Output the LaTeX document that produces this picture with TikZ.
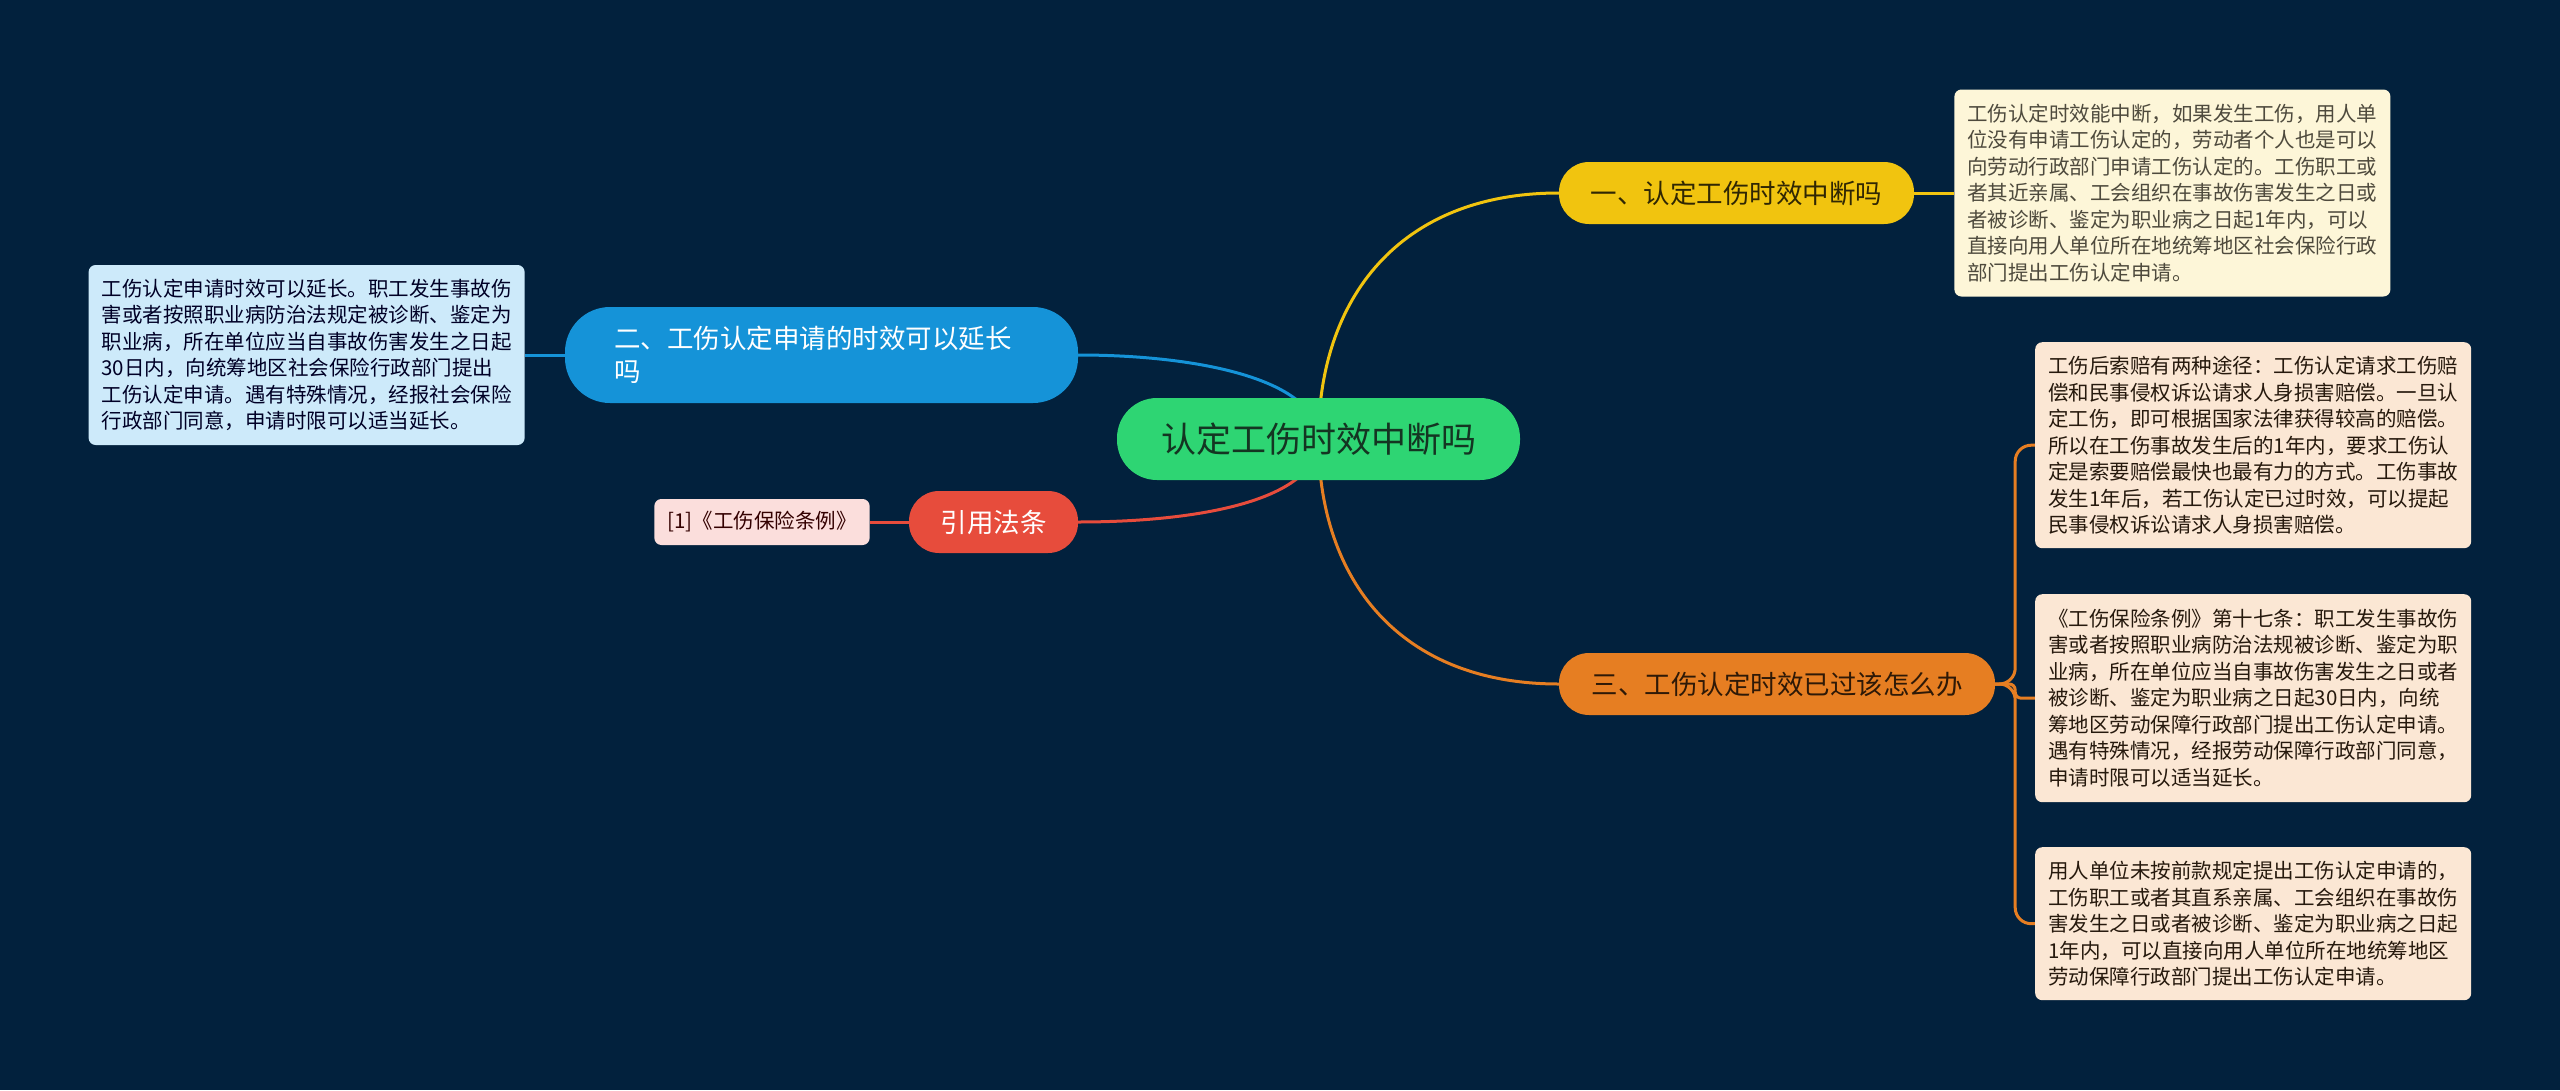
\documentclass[tikz,border=0pt]{standalone}
\usepackage{fontspec}
\newfontfamily\cjk{Noto Sans CJK SC}
\usetikzlibrary{positioning}
\pgfdeclarelayer{back}
\pgfdeclarelayer{lines}
\pgfsetlayers{back,lines,main}
\definecolor{bgnavy}{HTML}{02213D}
\definecolor{rootgreen}{HTML}{2ED573}
\definecolor{roottext}{HTML}{143522}
\definecolor{ylw}{HTML}{F1C40F}
\definecolor{org}{HTML}{E67E22}
\definecolor{blu}{HTML}{1593D8}
\definecolor{rd}{HTML}{E74C3C}
\definecolor{yleaffill}{HTML}{FDF6D8}
\definecolor{oleaffill}{HTML}{FBE7D4}
\definecolor{bleaffill}{HTML}{CDEAFA}
\definecolor{rleaffill}{HTML}{FBDEDC}
\newcommand{\leaffont}{\cjk\fontsize{20.5}{26.5}\selectfont}
\newcommand{\branchfont}{\cjk\fontsize{26.5}{33}\selectfont}

\begin{document}
\begin{tikzpicture}[x=1pt,y=-1pt,line width=3pt,
    root/.style={fill=rootgreen,rounded corners=40pt,minimum width=403pt,minimum height=82pt,text=roottext,font=\cjk\fontsize{35}{40}\selectfont},
    branch/.style={rounded corners=30pt,minimum height=62pt,font=\branchfont},
    leaf/.style={rounded corners=7pt,align=left,text width=410pt,inner xsep=13pt,font=\leaffont},
    link/.style={line width=3pt}]
    \begin{pgfonlayer}{back}
        \fill[bgnavy] (0,0) rectangle (2560,1090);
    \end{pgfonlayer}
    \useasboundingbox (0,0) rectangle (2560,1090);
    % root and first level
    \node[root] (root) at (1318.5,439) {认定工伤时效中断吗};
    \node[branch,fill=ylw,text=black!80!ylw,minimum width=355pt] (ybranch) at (1736.5,193) {一、认定工伤时效中断吗};
    \node[branch,fill=org,text=black!80!org,minimum width=436pt] (obranch) at (1777,684) {三、工伤认定时效已过该怎么办};
    \node[branch,fill=blu,text=white,rounded corners=45pt,align=left,text width=415pt,inner xsep=49pt,minimum height=96pt] (bbranch) at (821.5,355) {二、工伤认定申请的时效可以延长\\吗};
    \node[branch,fill=rd,text=white,minimum width=169pt] (rbranch) at (993.5,522) {引用法条};
    % leaves
    \node[leaf,fill=yleaffill,text=black!80!yellow,minimum height=207pt,right=40pt of ybranch] (yleaf) {工伤认定时效能中断，如果发生工伤，用人单\\位没有申请工伤认定的，劳动者个人也是可以\\向劳动行政部门申请工伤认定的。工伤职工或\\者其近亲属、工会组织在事故伤害发生之日或\\者被诊断、鉴定为职业病之日起1年内，可以\\直接向用人单位所在地统筹地区社会保险行政\\部门提出工伤认定申请。};
    \node[leaf,fill=oleaffill,text=black!80!brown,minimum height=206pt,anchor=north west] (oleafa) at (2035,342) {工伤后索赔有两种途径：工伤认定请求工伤赔\\偿和民事侵权诉讼请求人身损害赔偿。一旦认\\定工伤，即可根据国家法律获得较高的赔偿。\\所以在工伤事故发生后的1年内，要求工伤认\\定是索要赔偿最快也最有力的方式。工伤事故\\发生1年后，若工伤认定已过时效，可以提起\\民事侵权诉讼请求人身损害赔偿。};
    \node[leaf,fill=oleaffill,text=black!80!brown,minimum height=208pt,anchor=north west] (oleafb) at (2035,594) {《工伤保险条例》第十七条：职工发生事故伤\\害或者按照职业病防治法规被诊断、鉴定为职\\业病，所在单位应当自事故伤害发生之日或者\\被诊断、鉴定为职业病之日起30日内，向统\\筹地区劳动保障行政部门提出工伤认定申请。\\遇有特殊情况，经报劳动保障行政部门同意，\\申请时限可以适当延长。};
    \node[leaf,fill=oleaffill,text=black!80!brown,minimum height=153pt,anchor=north west] (oleafc) at (2035,847) {用人单位未按前款规定提出工伤认定申请的，\\工伤职工或者其直系亲属、工会组织在事故伤\\害发生之日或者被诊断、鉴定为职业病之日起\\1年内，可以直接向用人单位所在地统筹地区\\劳动保障行政部门提出工伤认定申请。};
    \node[leaf,fill=bleaffill,text=black!85!blue,minimum height=180pt,left=40pt of bbranch] (bleaf) {工伤认定申请时效可以延长。职工发生事故伤\\害或者按照职业病防治法规定被诊断、鉴定为\\职业病，所在单位应当自事故伤害发生之日起\\30日内，向统筹地区社会保险行政部门提出\\工伤认定申请。遇有特殊情况，经报社会保险\\行政部门同意，申请时限可以适当延长。};
    \node[leaf,fill=rleaffill,text=black!80!red,text width=,minimum height=46pt,left=39pt of rbranch] (rleaf) {[1]《工伤保险条例》};
    % connectors, behind the nodes
    \begin{pgfonlayer}{lines}
        \draw[link,ylw] (root.center) .. controls +(0,-140) and +(-160,0) .. (ybranch.west);
        \draw[link,org] (root.center) .. controls +(0,140) and +(-160,0) .. (obranch.west);
        \draw[link,blu] (bbranch.east) .. controls +(122,0) and +(0,-59) .. (root.center);
        \draw[link,rd] (rbranch.east) .. controls +(122,0) and +(0,61) .. (root.center);
        \draw[link,ylw] (ybranch) -- (yleaf);
        \draw[link,blu] (bbranch) -- (bleaf);
        \draw[link,rd] (rbranch) -- (rleaf);
        \draw[link,org,rounded corners=16pt] (obranch.east) -- ++(20,0) |- (oleafa.west);
        \draw[link,org,rounded corners=6pt] (obranch.east) -- ++(20,0) |- (oleafb.west);
        \draw[link,org,rounded corners=16pt] (obranch.east) -- ++(20,0) |- (oleafc.west);
    \end{pgfonlayer}
\end{tikzpicture}
\end{document}
